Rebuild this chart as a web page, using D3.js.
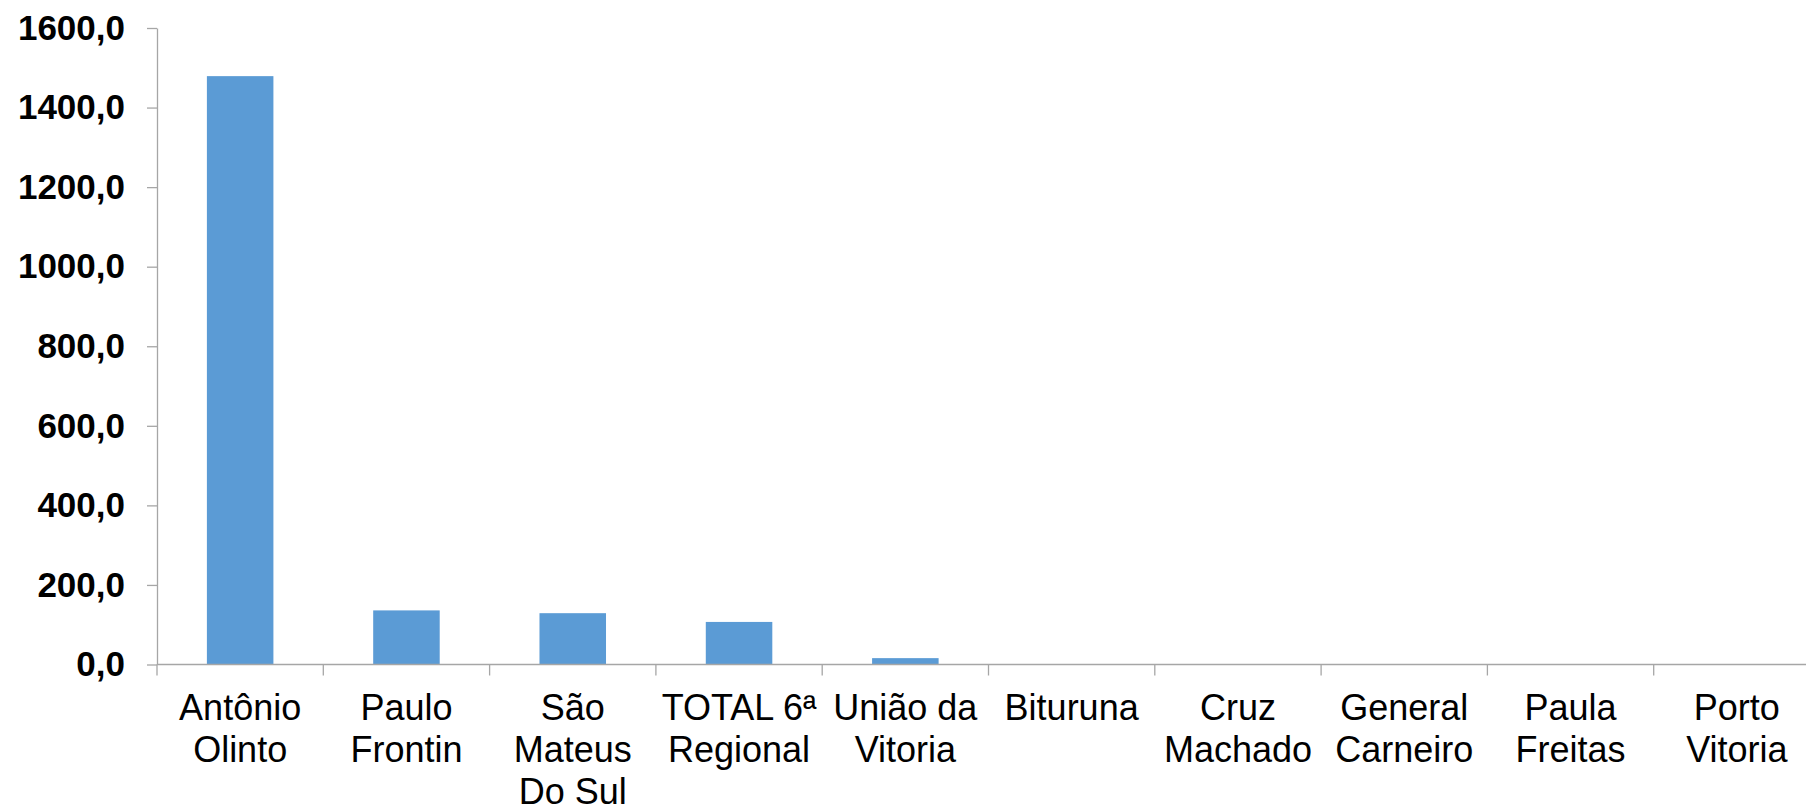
<!DOCTYPE html>
<html>
<head>
<meta charset="utf-8">
<script src="https://cdn.jsdelivr.net/npm/d3@7"></script>
<style>
  html, body { margin: 0; padding: 0; background: #fff; }
  svg { display: block; }
</style>
</head>
<body>
<div id="chart"></div>
<script>
// data
var categories = ["Antônio Olinto", "Paulo Frontin", "São Mateus Do Sul", "TOTAL 6ª Regional",
    "União da Vitoria", "Bituruna", "Cruz Machado", "General Carneiro", "Paula Freitas", "Porto Vitoria"];
var values = [1479, 136, 129, 107, 16, 0, 0, 0, 0, 0];
var yTicks = [0, 200, 400, 600, 800, 1000, 1200, 1400, 1600];

var width = 1806;
var height = 811;
var axisColor = "#a6a6a6";

var locale = d3.formatLocale({decimal: ",", thousands: ".", grouping: [3], currency: ["R$", ""]});
var fmt = locale.format(".1f");

var svg = d3.select("#chart")
    .append("svg")
    .attr("width", width)
    .attr("height", height);

var x = d3.scaleBand()
    .domain(categories)
    .range([157, 1820])
    .paddingInner(0.6)
    .paddingOuter(0.3);

// separate scale for category slots (boundary ticks)
var slot = d3.scaleBand()
    .domain(categories)
    .range([157, 1820]);

var y = d3.scaleLinear()
    .domain([0, 1600])
    .range([664.5, 28]);

// bars
svg.append("g")
    .selectAll("rect")
    .data(values)
    .enter()
    .append("rect")
    .attr("x", function(d, i) { return x(categories[i]); })
    .attr("width", x.bandwidth())
    .attr("y", function(d) { return y(d); })
    .attr("height", function(d) { return y(0) - y(d); })
    .attr("fill", "#5b9bd5");

// y axis
var yAxis = svg.append("g")
    .attr("transform", "translate(157,0)")
    .call(d3.axisLeft(y).tickValues(yTicks).tickFormat(fmt).tickSize(10).tickPadding(22).tickSizeOuter(0));

yAxis.select(".domain").attr("stroke", axisColor).attr("stroke-width", 1.3);
yAxis.selectAll(".tick line").attr("stroke", axisColor).attr("stroke-width", 1.3);
yAxis.selectAll(".tick text")
    .attr("fill", "#000")
    .style("font-family", "Liberation Sans, Arial, sans-serif")
    .style("font-size", "35px")
    .style("font-weight", "bold");

// x axis line and slot boundary ticks
var xAxis = svg.append("g");
xAxis.append("line")
    .attr("x1", slot.range()[0])
    .attr("x2", slot.range()[1])
    .attr("y1", y(0))
    .attr("y2", y(0))
    .attr("stroke", axisColor)
    .attr("stroke-width", 1.3);

var bounds = categories.map(function(c) { return slot(c); }).concat([slot.range()[1]]);
xAxis.selectAll(".bound")
    .data(bounds)
    .enter()
    .append("line")
    .attr("class", "bound")
    .attr("x1", function(d) { return d; })
    .attr("x2", function(d) { return d; })
    .attr("y1", y(0))
    .attr("y2", y(0) + 11)
    .attr("stroke", axisColor)
    .attr("stroke-width", 1.3);

// category labels, wrapped to the slot width
var labels = xAxis.selectAll(".cat")
    .data(categories)
    .enter()
    .append("text")
    .attr("class", "cat")
    .attr("x", function(d) { return slot(d) + slot.bandwidth() / 2; })
    .attr("y", 720)
    .attr("text-anchor", "middle")
    .style("font-family", "Liberation Sans, Arial, sans-serif")
    .style("font-size", "36px")
    .attr("fill", "#000");

labels.each(function(d) {
    var text = d3.select(this);
    var cx = text.attr("x");
    var words = d.split(" ");
    var line = [];
    var tspan = text.append("tspan").attr("x", cx).attr("dy", 0);
    words.forEach(function(w) {
        line.push(w);
        tspan.text(line.join(" "));
        if (tspan.node().getComputedTextLength() > slot.bandwidth() && line.length > 1) {
            line.pop();
            tspan.text(line.join(" "));
            line = [w];
            tspan = text.append("tspan").attr("x", cx).attr("dy", 42).text(w);
        }
    });
});
</script>
</body>
</html>
